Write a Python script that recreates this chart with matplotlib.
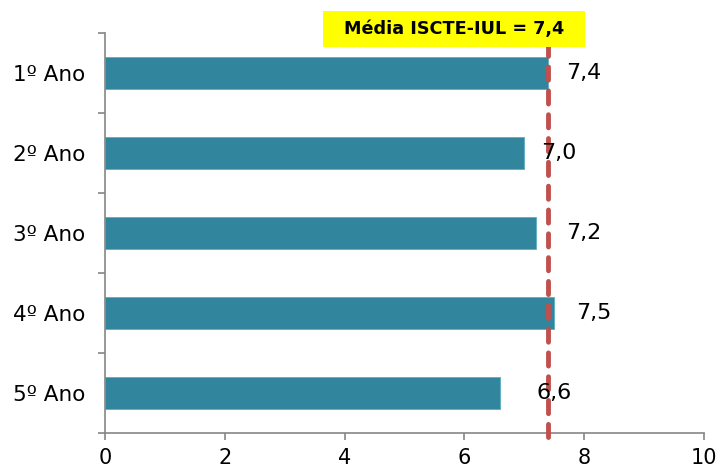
import matplotlib.pyplot as plt
from matplotlib.patches import Rectangle
import numpy as np

plt.rcParams['font.family'] = ['DejaVu Sans']

categories = ['1º Ano', '2º Ano', '3º Ano', '4º Ano', '5º Ano']
values = [7.4, 7.0, 7.2, 7.5, 6.6]
value_labels = ['7,4', '7,0', '7,2', '7,5', '6,6']
media = 7.4
media_label = 'Média ISCTE-IUL = 7,4'

# label offsets from bar end (pixels), as placed in the original
label_offsets = [18, 17, 30, 22, 36]

bar_color = '#31859C'
line_color = '#C0504D'
axis_color = '#868686'

fig = plt.figure(figsize=(7.21, 4.72), dpi=100)
ax = fig.add_axes([0.1456, 0.0826, 0.8308, 0.8475])

y = np.arange(len(categories))
ax.barh(y, values, height=0.4, color=bar_color, edgecolor='#5AAFC4', linewidth=0.6, zorder=2)

for yi, v, lab, off in zip(y, values, value_labels, label_offsets):
    ax.annotate(lab, xy=(v, yi), xytext=(off * 0.72, 0), textcoords='offset points',
                ha='left', va='center', fontsize=16, color='black', zorder=4)

ax.axvline(media, ymin=-0.01, ymax=1.03, color=line_color, linewidth=3.5,
           dashes=(2.7, 2.2), dash_capstyle='round', clip_on=False, zorder=3)

ax.set_xlim(0, 10)
ax.set_ylim(len(categories) - 0.5, -0.5)
ax.set_xticks(np.arange(0, 11, 2))
ax.set_yticks(y)
ax.set_yticklabels(categories)
ax.set_yticks(np.arange(-0.5, len(categories)), minor=True)
ax.tick_params(axis='y', which='major', length=0, labelsize=15.5, pad=14)
ax.tick_params(axis='y', which='minor', length=5, color=axis_color, width=1.2)
ax.tick_params(axis='x', length=5, color=axis_color, width=1.2, labelsize=15, pad=6)

for s in ['top', 'right']:
    ax.spines[s].set_visible(False)
for s in ['left', 'bottom']:
    ax.spines[s].set_color(axis_color)
    ax.spines[s].set_linewidth(1.2)

# yellow label box above the plot
fig.patches.append(Rectangle((0.448, 0.9004), 0.3634, 0.0763, transform=fig.transFigure,
                             facecolor='#FFFF00', edgecolor='none', zorder=5))
fig.text(0.6297, 0.9386, media_label, ha='center', va='center', fontsize=12.7,
         fontweight='bold', zorder=6)

fig.savefig('out.png', dpi=100)
